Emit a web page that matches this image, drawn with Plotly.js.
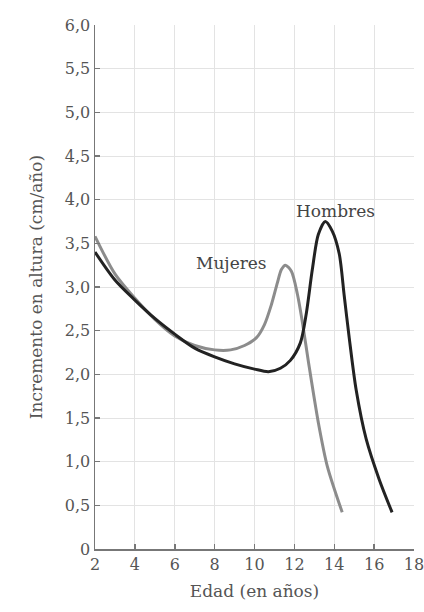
<!DOCTYPE html>
<html>
<head>
<meta charset="utf-8">
<script src="https://cdn.plot.ly/plotly-3.0.1.min.js"></script>
<style>html,body{margin:0;padding:0;background:#fff;}#chart{width:424px;height:612px;}</style>
</head>
<body>
<div id="chart"></div>
<script>
// Edad (años) e incremento en altura (cm/año)
const hombresEdad = [2, 3, 4, 5, 6, 7, 8, 9, 10, 10.7, 11.3, 11.8, 12.3, 12.6, 12.9, 13.2, 13.55, 13.9, 14.25, 14.5, 14.75, 15.1, 15.6, 16.25, 16.9];
const hombresIncremento = [3.40, 3.08, 2.85, 2.64, 2.46, 2.30, 2.20, 2.12, 2.06, 2.03, 2.07, 2.16, 2.36, 2.70, 3.20, 3.60, 3.75, 3.64, 3.38, 2.90, 2.42, 1.82, 1.26, 0.80, 0.42];
const mujeresEdad = [2, 3, 4, 5, 6, 7, 8, 8.8, 9.5, 10.1, 10.5, 10.85, 11.15, 11.35, 11.55, 11.85, 12.15, 12.4, 12.7, 13.2, 13.65, 14.4];
const mujeresIncremento = [3.58, 3.15, 2.87, 2.63, 2.44, 2.33, 2.28, 2.28, 2.33, 2.42, 2.57, 2.80, 3.05, 3.20, 3.25, 3.18, 2.92, 2.60, 2.15, 1.45, 0.95, 0.42];
const xTicks = [2, 4, 6, 8, 10, 12, 14, 16, 18];
const yTicks = [0, 0.5, 1, 1.5, 2, 2.5, 3, 3.5, 4, 4.5, 5, 5.5, 6];
const yTickText = ["0", "0,5", "1,0", "1,5", "2,0", "2,5", "3,0", "3,5", "4,0", "4,5", "5,0", "5,5", "6,0"];
const seriesNames = ["Hombres", "Mujeres"];

const serif = "DejaVu Serif";
const traces = [
  {x: mujeresEdad, y: mujeresIncremento, name: seriesNames[1], mode: "lines",
   line: {color: "#8c8c8c", width: 3, shape: "spline", smoothing: 0.8}},
  {x: hombresEdad, y: hombresIncremento, name: seriesNames[0], mode: "lines",
   line: {color: "#222222", width: 3, shape: "spline", smoothing: 0.8}}
];
const layout = {
  width: 424, height: 612,
  margin: {l: 95, r: 10, t: 25, b: 63},
  paper_bgcolor: "#ffffff", plot_bgcolor: "#ffffff",
  showlegend: false,
  font: {family: serif, color: "#555555", size: 16},
  xaxis: {
    range: [2, 18], tickvals: xTicks, ticktext: xTicks.map(String),
    ticks: "inside", ticklen: 5, tickcolor: "#777", tickwidth: 1.5,
    showline: true, linecolor: "#777", linewidth: 1.5,
    showgrid: true, gridcolor: "#e3e3e3", gridwidth: 1, zeroline: false,
    ticklabeloverflow: "allow",
    tickfont: {family: serif, size: 16, color: "#555"},
    title: {text: "Edad (en años)", font: {family: serif, size: 17, color: "#555"}, standoff: 12}
  },
  yaxis: {
    range: [0, 6], tickvals: yTicks, ticktext: yTickText,
    ticks: "inside", ticklen: 5, tickcolor: "#777", tickwidth: 1.5,
    showline: true, linecolor: "#777", linewidth: 1.5,
    showgrid: true, gridcolor: "#e3e3e3", gridwidth: 1, zeroline: false,
    ticklabeloverflow: "allow",
    tickfont: {family: serif, size: 16, color: "#555"},
    title: {text: "Incremento en altura (cm/año)", font: {family: serif, size: 17, color: "#555"}, standoff: 18}
  },
  annotations: [
    {x: 8.83, y: 3.28, xref: "x", yref: "y", text: seriesNames[1], showarrow: false,
     font: {family: serif, size: 17, color: "#444"}},
    {x: 14.06, y: 3.87, xref: "x", yref: "y", text: seriesNames[0], showarrow: false,
     font: {family: serif, size: 17, color: "#444"}}
  ]
};
Plotly.newPlot("chart", traces, layout, {staticPlot: true, displayModeBar: false});
</script>
</body>
</html>
